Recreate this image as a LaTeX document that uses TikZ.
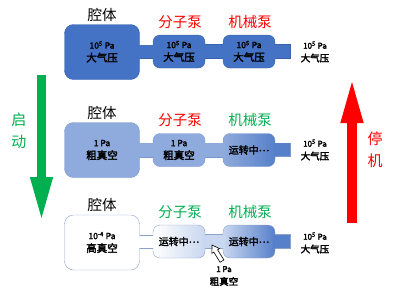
\documentclass[tikz,border=0pt]{standalone}
\usepackage{fontspec}
\setmainfont{Noto Sans CJK SC}[AutoFakeBold=2.5]
\usetikzlibrary{arrows.meta,backgrounds}
\definecolor{bDark}{HTML}{4472C4}
\definecolor{bEdge}{HTML}{3A63AE}
\definecolor{bMid}{HTML}{8FAADC}
\definecolor{bMidEdge}{HTML}{7B98CF}
\definecolor{bPale}{HTML}{C9D7F0}
\definecolor{bPaleEdge}{HTML}{8EA2C8}
\definecolor{tred}{HTML}{FF0000}
\definecolor{tgreen}{HTML}{00B050}
\newcommand{\pa}[2]{#1\\{\fontsize{10.5}{13}\selectfont #2}}
\newcommand{\running}{运转中\raisebox{2.6pt}{…}}
\begin{document}
\begin{tikzpicture}[x=1pt, y=-1pt,
  box/.style={rounded corners=7pt, inner sep=0pt, align=center,
    font=\bfseries\fontsize{8.5}{13}\selectfont},
  cham/.style={box, minimum width=75pt, minimum height=55pt, rounded corners=9pt},
  pump/.style={box, minimum width=52pt, minimum height=33pt},
  run/.style={font=\bfseries\fontsize{10}{13}\selectfont},
  ttl/.style={font=\fontsize{14.5}{15}\selectfont},
  otxt/.style={align=center, inner sep=0pt, font=\bfseries\fontsize{8}{13}\selectfont},
  side/.style={align=center, inner sep=0pt, font=\fontsize{15}{22}\selectfont}]
\useasboundingbox (0,0) rectangle (394,293);

% row 1: at rest
\node[cham, fill=bDark, draw=bEdge] (q1) at (102,52) {\pa{10\textsuperscript{5} Pa}{大气压}};
\node[pump, fill=bDark, draw=bEdge] (f1) at (179,51.5) {\pa{10\textsuperscript{5} Pa}{大气压}};
\node[pump, fill=bDark, draw=bEdge] (j1) at (249,51.5) {\pa{10\textsuperscript{5} Pa}{大气压}};
\coordinate (e1) at (290,51);

% row 2: rough pumping
\node[cham, fill=bMid, draw=bMidEdge] (q2) at (102,150) {\pa{1 Pa}{粗真空}};
\node[pump, fill=bMid, draw=bMidEdge] (f2) at (179,150) {\pa{1 Pa}{粗真空}};
\node[pump, run, left color=bMid, right color=bDark!90, draw=bMidEdge] (j2) at (249,150) {\running};
\coordinate (e2) at (290,149);

% row 3: high vacuum
\node[cham, fill=white, draw=bPaleEdge] (q3) at (102,242.5) {\pa{10\textsuperscript{-4} Pa}{高真空}};
\node[pump, run, left color=white, right color=bPale, draw=bPaleEdge] (f3) at (179,241.5) {\running};
\node[pump, run, left color=bPale, right color=bDark!90, draw=bPaleEdge] (j3) at (249,241.5) {\running};
\coordinate (e3) at (290,241);

% pipes
\begin{pgfonlayer}{background}
  \foreach \a/\b/\c/\d in {q1/f1/bDark/bEdge, f1/j1/bDark/bEdge, j1/e1/bDark/bEdge,
      q2/f2/bMid/bMidEdge, f2/j2/bMid/bMidEdge, j2/e2/bDark/bMidEdge,
      q3/f3/white/bPaleEdge, f3/j3/bPale/bPaleEdge, j3/e3/bDark/bPaleEdge}
    \draw[fill=\c, draw=\d, line width=0.6pt] ([yshift=7pt]\a.east) rectangle ([yshift=-7pt]\b.west);
\end{pgfonlayer}
\foreach \a/\b/\c in {q1/f1/bDark, f1/j1/bDark, q2/f2/bMid, f2/j2/bMid, q3/f3/white, f3/j3/bPale}
  \fill[\c] ([xshift=-2pt,yshift=6.6pt]\a.east) rectangle ([xshift=2pt,yshift=-6.6pt]\b.west);
\foreach \a/\b/\c in {j1/e1/bDark, j2/e2/bDark!90, j3/e3/bDark!90}
  \fill[\c] ([xshift=-2pt,yshift=6.6pt]\a.east) rectangle ([xshift=-0.3pt,yshift=-6.6pt]\b);

% titles
\foreach \n/\yq/\yp/\cf/\cj in {1/15/22/tred/tred, 2/113/120/tred/tgreen, 3/205/212/tgreen/tgreen} {
  \node[ttl] (tq\n) at (102,\yq) {腔体};
  \node[ttl, text=\cf] (tf\n) at (180,\yp) {分子泵};
  \node[ttl, text=\cj] (tj\n) at (250,\yp) {机械泵};
}

% outlet pressure
\foreach \n/\y in {1/52, 2/150, 3/243}
  \node[otxt] (o\n) at (315,\y) {10\textsuperscript{5} Pa\\{\fontsize{9.5}{13}\selectfont 大气压}};

% fore-line pressure
\draw[fill=white, line width=0.6pt] (212,245) -- (219.5,248.6) -- (217.6,249.8) -- (223.9,259.9)
  -- (220.1,262.3) -- (213.8,252.1) -- (211.9,253.3) -- cycle;
\node[otxt] (fp) at (224,276) {1 Pa\\{\fontsize{9.5}{13}\selectfont 粗真空}};

% start / stop
\coordinate (gs) at (41.5,75);
\coordinate (ge) at (41.5,223);
\draw[line width=9.5pt, draw=tgreen, -{Triangle[length=46pt,width=20pt]}] (gs) -- (ge);
\node[side, text=tgreen] (qd) at (19,131) {启\\动};
\coordinate (rs) at (352,223);
\coordinate (re) at (352,77);
\draw[line width=9.5pt, draw=tred, -{Triangle[length=46pt,width=20pt]}] (rs) -- (re);
\node[side, text=tred] (tj) at (375,150) {停\\机};
\end{tikzpicture}
\end{document}
